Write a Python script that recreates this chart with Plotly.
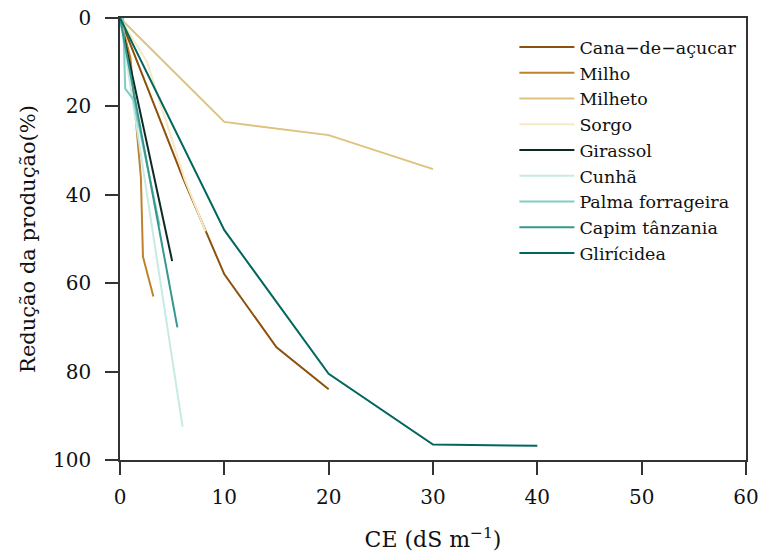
import plotly.graph_objects as go

# Data (CE in dS m-1, yield reduction in %)
cana_x = [0, 2, 6, 10, 15, 20]
cana_y = [0, 12, 36, 58, 74.5, 84]

milho_x = [0, 1, 2, 2.2, 3.2]
milho_y = [0, 9, 36, 54, 63]

milheto_x = [0, 10, 20, 30]
milheto_y = [0, 23.5, 26.5, 34.2]

sorgo_x = [0, 2.6, 6.2, 8.2]
sorgo_y = [0, 10, 36.5, 48.3]

girassol_x = [0, 2, 5.0]
girassol_y = [0, 22, 55]

cunha_x = [0, 6.0]
cunha_y = [0, 92.5]

palma_x = [0.3, 0.5, 1.3, 3.8]
palma_y = [0, 16, 18.5, 47]

capim_x = [0, 5.5]
capim_y = [0, 70]

gliricidea_x = [0, 10, 20, 30, 40]
gliricidea_y = [0, 48, 80.5, 96.5, 96.8]

names = ["Cana\u2212de\u2212açucar", "Milho", "Milheto", "Sorgo", "Girassol",
         "Cunhã", "Palma forrageira", "Capim tânzania", "Glirícidea"]
colors = ["#8C510A", "#BF812D", "#DFC27D", "#F6E8C3", "#0d2a22",
          "#C7EAE5", "#80CDC1", "#35978F", "#01665E"]
xs = [cana_x, milho_x, milheto_x, sorgo_x, girassol_x, cunha_x, palma_x, capim_x, gliricidea_x]
ys = [cana_y, milho_y, milheto_y, sorgo_y, girassol_y, cunha_y, palma_y, capim_y, gliricidea_y]

font_family = "DejaVu Serif, Liberation Serif, serif"

fig = go.Figure()
for i, (n, c, x, y) in enumerate(zip(names, colors, xs, ys)):
    fig.add_trace(go.Scatter(x=x, y=y, mode="lines", name=n,
                             line=dict(color=c, width=2), legendgroup=f"g{i}"))

axis_common = dict(showline=True, linecolor="#333333", linewidth=1.5, mirror=True,
                   ticks="outside", ticklen=13, tickwidth=1.5, tickcolor="#333333",
                   showgrid=False, zeroline=False, automargin=False,
                   ticklabeloverflow="allow",
                   tickfont=dict(family=font_family, size=20, color="#111111"))

fig.update_layout(
    width=761, height=555,
    margin=dict(l=120, r=15, t=18, b=95),
    paper_bgcolor="white", plot_bgcolor="white",
    font=dict(family=font_family, size=18, color="#111111"),
    xaxis=dict(range=[0, 60], tickvals=[0, 10, 20, 30, 40, 50, 60],
               ticklabelstandoff=5,
               title=dict(text="CE (dS m<sup>\u22121</sup>)", standoff=24,
                          font=dict(family=font_family, size=22)),
               **axis_common),
    yaxis=dict(range=[100, 0], tickvals=[0, 20, 40, 60, 80, 100],
               ticklabelstandoff=10,
               title=dict(text="Redução da produção(%)", standoff=12,
                          font=dict(family=font_family, size=21)),
               **axis_common),
    legend=dict(x=0.63, y=0.975, xanchor="left", yanchor="top",
                bgcolor="rgba(0,0,0,0)", tracegroupgap=0, itemwidth=55,
                font=dict(family=font_family, size=17.5, color="#111111")),
    showlegend=True,
)

fig.write_html("out.html",
               config={"displayModeBar": False},
               post_script="document.body.style.margin='0';document.documentElement.style.overflow='hidden';")
